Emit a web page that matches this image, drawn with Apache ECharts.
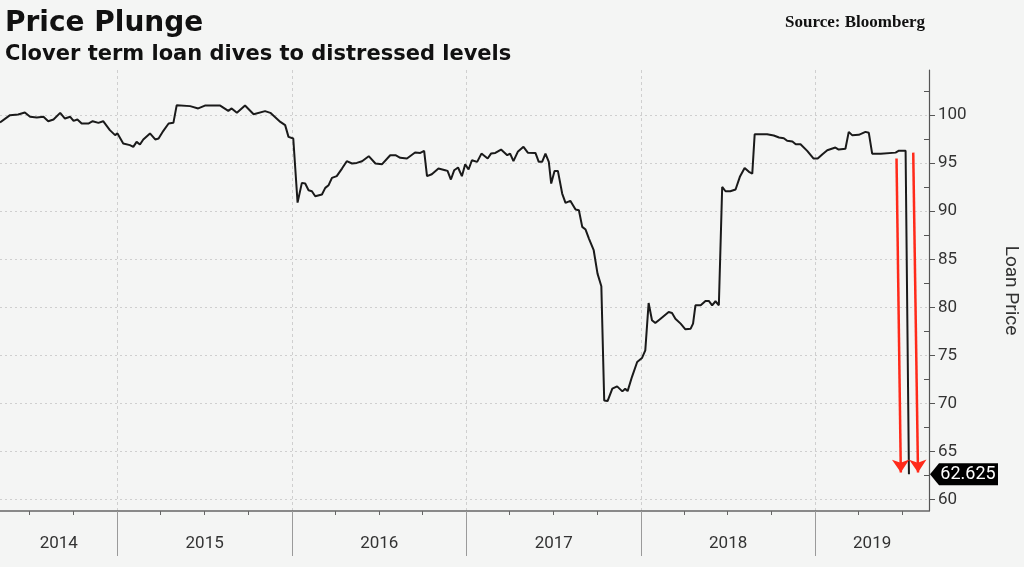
<!DOCTYPE html>
<html>
<head>
<meta charset="utf-8">
<script src="https://cdn.jsdelivr.net/npm/echarts@6/dist/echarts.min.js"></script>
<style>
html,body{margin:0;padding:0;background:#f4f5f4;}
#chart{width:1024px;height:567px;}
</style>
</head>
<body>
<div id="chart"></div>
<script>
// ---- data ----
const dates = [
'2014-04-30','2014-05-21','2014-06-07','2014-06-21','2014-07-02','2014-07-16','2014-07-30','2014-08-09','2014-08-20','2014-09-03',
'2014-09-13','2014-09-24','2014-10-01','2014-10-09','2014-10-18','2014-11-01','2014-11-10','2014-11-22','2014-12-02','2014-12-16',
'2014-12-27','2015-01-01','2015-01-13','2015-01-27','2015-02-03','2015-02-10','2015-02-17','2015-02-24','2015-03-10','2015-03-21',
'2015-03-28','2015-04-07','2015-04-18','2015-04-28','2015-05-05','2015-06-02','2015-06-19','2015-07-03','2015-08-04','2015-08-21',
'2015-08-28','2015-09-08','2015-09-25','2015-10-13','2015-11-06','2015-11-17','2015-12-08','2015-12-18','2015-12-25','2016-01-04',
'2016-01-13','2016-01-22','2016-01-29','2016-02-05','2016-02-12','2016-02-19','2016-03-04','2016-03-11','2016-03-18','2016-03-25',
'2016-04-04','2016-04-15','2016-04-25','2016-05-06','2016-05-16','2016-05-27','2016-06-10','2016-06-24','2016-07-08','2016-07-25',
'2016-08-05','2016-08-15','2016-08-29','2016-09-15','2016-09-26','2016-10-04','2016-10-10','2016-10-20','2016-11-03','2016-11-17',
'2016-11-22','2016-11-29','2016-12-06','2016-12-14','2016-12-22','2016-12-29','2017-01-05','2017-01-12','2017-01-23','2017-02-01',
'2017-02-14','2017-02-21','2017-03-02','2017-03-14','2017-03-27','2017-04-02','2017-04-09','2017-04-18','2017-04-30','2017-05-09',
'2017-05-25','2017-06-01','2017-06-08','2017-06-15','2017-06-22','2017-06-27','2017-07-04','2017-07-11','2017-07-20','2017-07-27',
'2017-08-06','2017-08-17','2017-08-24','2017-08-31','2017-09-07','2017-09-14','2017-09-24','2017-10-02','2017-10-10','2017-10-16',
'2017-10-23','2017-11-02','2017-11-12','2017-11-23','2017-11-29','2017-12-04','2017-12-13','2017-12-24','2018-01-03','2018-01-10',
'2018-01-17','2018-01-24','2018-01-31','2018-02-11','2018-02-28','2018-03-07','2018-03-14','2018-03-25','2018-04-04','2018-04-15',
'2018-04-20','2018-04-25','2018-05-06','2018-05-16','2018-05-23','2018-05-30','2018-06-06','2018-06-13','2018-06-20','2018-06-27',
'2018-07-07','2018-07-18','2018-07-27','2018-08-06','2018-08-15','2018-08-22','2018-08-27','2018-09-22','2018-10-06','2018-10-17',
'2018-10-27','2018-11-03','2018-11-14','2018-11-21','2018-12-01','2018-12-15','2018-12-28','2019-01-06','2019-01-16','2019-01-26',
'2019-02-12','2019-02-19','2019-03-05','2019-03-12','2019-03-19','2019-04-02','2019-04-16','2019-04-23','2019-04-30','2019-05-18',
'2019-06-18','2019-06-25','2019-07-09','2019-07-16'
];
const prices = [
99.24,100.0,100.07,100.28,99.83,99.76,99.83,99.37,99.55,100.24,
99.65,99.83,99.41,99.55,99.13,99.13,99.37,99.2,99.37,98.44,
97.92,98.1,97.05,96.88,96.7,97.22,96.94,97.47,98.1,97.47,
97.57,98.37,99.13,99.2,101.04,100.94,100.7,101.0,101.0,100.45,
100.7,100.24,101.0,100.1,100.42,100.24,99.3,98.96,97.74,97.57,
90.9,92.95,92.88,92.19,92.08,91.56,91.74,92.43,92.71,93.47,
93.65,94.44,95.21,94.97,95.03,95.21,95.73,94.97,94.9,95.83,
95.83,95.56,95.49,96.11,96.07,96.28,93.65,93.85,94.44,94.27,
94.2,93.3,94.27,94.55,93.65,94.9,94.34,95.31,95.14,96.0,
95.49,96.0,96.07,96.42,95.83,96.0,95.21,96.18,96.7,96.1,
96.07,95.14,95.14,96.0,95.14,92.88,94.2,94.2,91.84,90.87,
91.08,90.17,90.1,88.37,88.09,87.15,85.94,83.51,82.19,70.31,
70.24,71.53,71.77,71.25,71.53,71.28,72.74,74.31,74.72,75.52,
80.45,78.65,78.37,78.82,79.51,79.41,78.82,78.3,77.71,77.78,
78.3,80.21,80.21,80.66,80.66,80.21,80.63,80.21,92.53,92.08,
92.08,92.26,93.58,94.51,94.1,93.92,98.0,98.02,97.88,97.68,
97.6,97.33,97.26,96.98,96.98,96.28,95.49,95.49,95.94,96.35,
96.63,96.42,96.5,98.26,97.92,97.95,98.26,98.16,95.99,95.99,
96.1,96.3,96.3,62.625
];
const yearLabels = ['2014','2015','2016','2017','2018','2019'];
const yearStarts = ['2015-01-01','2016-01-01','2017-01-01','2018-01-01','2019-01-01'];
const quarterTicks = ['2014-07-01','2014-10-01','2015-04-01','2015-07-01','2015-10-01','2016-04-01','2016-07-01','2016-10-01',
  '2017-04-01','2017-07-01','2017-10-01','2018-04-01','2018-07-01','2018-10-01','2019-04-01','2019-07-01'];
const axisStart = '2014-04-30';
const axisEnd = '2019-08-27';
const yTickValues = [60,65,70,75,80,85,90,95,100];
const yMinorTickValues = [62.5,67.5,72.5,77.5,82.5,87.5,92.5,97.5,102.5];
const yMin = 58.8, yMax = 104.7;
// red arrow annotations (start date, start value, end date, end value)
const arrowStartDates = ['2019-06-20','2019-07-25'];
const arrowStartValues = [95.5, 96.1];
const arrowEndDates = ['2019-06-29','2019-08-04'];
const arrowEndValues = [62.8, 62.8];
const lastPriceLabel = '62.625';

// ---- build chart ----
const t = s => new Date(s + 'T00:00:00').getTime();
const tMin = t(axisStart), tMax = t(axisEnd);
const labelValues = yearLabels.map(y => {
  const a = Math.max(t(y + '-01-01'), tMin);
  const b = Math.min(t((+y + 1) + '-01-01'), tMax);
  return (a + b) / 2;
});
const seriesData = dates.map((d, i) => [t(d), prices[i]]);
const lastVal = prices[prices.length - 1];

const FONT = 'Roboto, "Noto Sans", sans-serif';
const chart = echarts.init(document.getElementById('chart'), null, {renderer: 'canvas'});
chart.setOption({
  backgroundColor: '#f4f5f4',
  animation: false,
  title: [
    {text: 'Price Plunge', left: 0, top: 5,
     textStyle: {fontFamily: '"DejaVu Sans", sans-serif', fontWeight: 'bold', fontSize: 28, color: '#111'}},
    {text: 'Clover term loan dives to distressed levels', left: 0, top: 39,
     textStyle: {fontFamily: '"DejaVu Sans", sans-serif', fontWeight: 'bold', fontSize: 21, color: '#111'}},
    {text: 'Source: Bloomberg', right: 94, top: 9,
     textStyle: {fontFamily: '"Liberation Serif", "DejaVu Serif", serif', fontWeight: 'bold', fontSize: 17, color: '#111'}}
  ],
  grid: {left: 0, right: 95, top: 70, bottom: 56, containLabel: false, outerBoundsMode: 'none'},
  xAxis: [
    {
      type: 'value', min: tMin, max: tMax, position: 'bottom',
      axisLine: {show: true, onZero: false, lineStyle: {color: '#666', width: 1.5}},
      axisTick: {show: true, customValues: yearStarts.map(t), length: 45, lineStyle: {color: '#9a9a9a', width: 1}},
      axisLabel: {show: true, customValues: labelValues, margin: 24, fontSize: 17, color: '#333', fontFamily: FONT,
        formatter: v => String(new Date(v).getFullYear()), hideOverlap: false},
      splitLine: {show: true, lineStyle: {color: '#cfcfcf', type: [3, 3], width: 1}}
    },
    {
      type: 'value', min: tMin, max: tMax, position: 'bottom',
      axisLine: {show: false, onZero: false},
      axisTick: {show: true, customValues: quarterTicks.map(t), length: 4, lineStyle: {color: '#666', width: 1}},
      axisLabel: {show: false},
      splitLine: {show: false}
    }
  ],
  yAxis: [
    {
      type: 'value', min: yMin, max: yMax, position: 'right',
      name: 'Loan Price', nameLocation: 'middle', nameRotate: -90, nameGap: 72,
      nameTextStyle: {fontSize: 19, color: '#333', fontFamily: FONT},
      axisLine: {show: true, lineStyle: {color: '#555', width: 1.2}},
      axisTick: {show: true, customValues: yTickValues, length: 6, lineStyle: {color: '#555'}},
      axisLabel: {show: true, customValues: yTickValues, margin: 9, fontSize: 17, color: '#333', fontFamily: FONT},
      splitLine: {show: true, lineStyle: {color: '#cfcfcf', type: [2, 3], width: 1}}
    },
    {
      type: 'value', min: yMin, max: yMax, position: 'right',
      axisLine: {show: false},
      axisTick: {show: true, inside: true, customValues: yMinorTickValues, length: 5, lineStyle: {color: '#555'}},
      axisLabel: {show: false},
      splitLine: {show: false}
    }
  ],
  series: [{
    type: 'line',
    xAxisIndex: 0, yAxisIndex: 0,
    data: seriesData,
    showSymbol: false,
    symbol: 'none',
    lineStyle: {color: '#1a1a1a', width: 2},
    silent: true,
    markLine: {
      silent: true,
      symbol: ['none', 'arrow'],
      symbolSize: 13,
      label: {show: false},
      lineStyle: {color: '#ff2a1a', width: 2.5, type: 'solid'},
      data: arrowStartDates.map((d, i) => [
        {coord: [t(d), arrowStartValues[i]]},
        {coord: [t(arrowEndDates[i]), arrowEndValues[i]]}
      ])
    },
    markPoint: {
      silent: true,
      symbol: 'path://M0,11 L9,0 L68,0 L68,22 L9,22 Z',
      symbolSize: [68, 22],
      symbolKeepAspect: false,
      symbolOffset: [35, 0],
      itemStyle: {color: '#000'},
      label: {show: true, color: '#fff', fontSize: 18, fontFamily: FONT, offset: [4, 0], formatter: lastPriceLabel},
      data: [{coord: [tMax, lastVal], value: lastVal}]
    }
  }]
});
</script>
</body>
</html>
